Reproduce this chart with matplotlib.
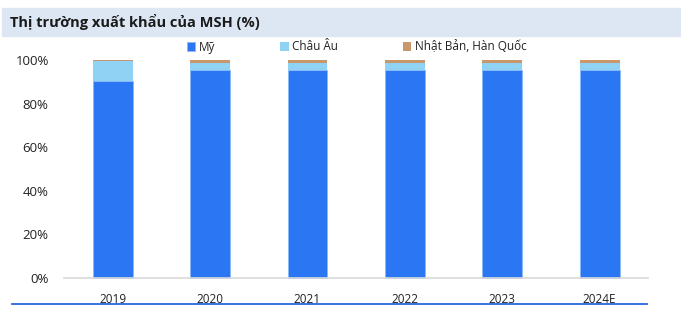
import matplotlib.pyplot as plt
import numpy as np
from matplotlib.patches import Rectangle
from matplotlib.lines import Line2D

years = ['2019', '2020', '2021', '2022', '2023', '2024E']
my = [90.5, 95.5, 95.5, 95.5, 95.5, 95.5]
chau_au = [9.0, 3.0, 3.0, 3.0, 3.0, 3.0]
nhat_han = [0.5, 1.5, 1.5, 1.5, 1.5, 1.5]

labels = ['Mỹ', 'Châu Âu', 'Nhật Bản, Hàn Quốc']
colors = ['#2a76f3', '#8fd2f4', '#c9976c']

plt.rcParams['font.family'] = ['Open Sans', 'DejaVu Sans']

fig = plt.figure(figsize=(6.81, 3.13), dpi=100)
ax = fig.add_axes([0.094, 0.112, 0.858, 0.696])

# title band
fig.patches.append(Rectangle((0.003, 1 - 36 / 313), 0.997, 28 / 313,
                             transform=fig.transFigure, color='#dce7f3', zorder=0))
fig.text(0.014, 1 - 22 / 313, 'Thị trường xuất khẩu của MSH (%)', fontsize=10.5,
         fontweight='bold', color='#1a1a1a', va='center', ha='left')

x = np.arange(len(years))
w = 0.41
b1 = ax.bar(x, my, w, color=colors[0], edgecolor='#8ab8f8', linewidth=0.6, label=labels[0])
b2 = ax.bar(x, chau_au, w, bottom=my, color=colors[1], label=labels[1])
bottom2 = np.array(my) + np.array(chau_au)
b3 = ax.bar(x, nhat_han, w, bottom=bottom2, color=colors[2], label=labels[2])
for bars in (b1, b2, b3):
    for p in bars:
        p.set_clip_on(False)

ax.set_xlim(-0.5, len(years) - 0.5)
ax.set_ylim(0, 100)
ax.set_yticks(np.arange(0, 101, 20))
ax.set_yticklabels([f'{v}%' for v in range(0, 101, 20)], fontsize=9.5, color='#222222')
ax.set_xticks(x)
ax.set_xticklabels(years, fontsize=8.5, color='#222222')
ax.tick_params(length=0)
ax.tick_params(axis='x', pad=11)
ax.tick_params(axis='y', pad=11)
for s in ['top', 'right', 'left']:
    ax.spines[s].set_visible(False)
ax.spines['bottom'].set_color('#d9d9d9')
ax.spines['bottom'].set_linewidth(1.2)

fig.legend(handles=[b1, b2, b3], labels=labels, loc='center', ncol=3,
           bbox_to_anchor=(0.524, 1 - 47 / 313), frameon=False, fontsize=8.5,
           handlelength=0.7, handleheight=0.7, handletextpad=0.3,
           columnspacing=5.5, labelcolor='#222222')

fig.add_artist(Line2D([12 / 681, 647 / 681], [1 - 304 / 313] * 2,
                      transform=fig.transFigure, color='#2a64e0', linewidth=1.3))

fig.savefig('out.png', dpi=100)
